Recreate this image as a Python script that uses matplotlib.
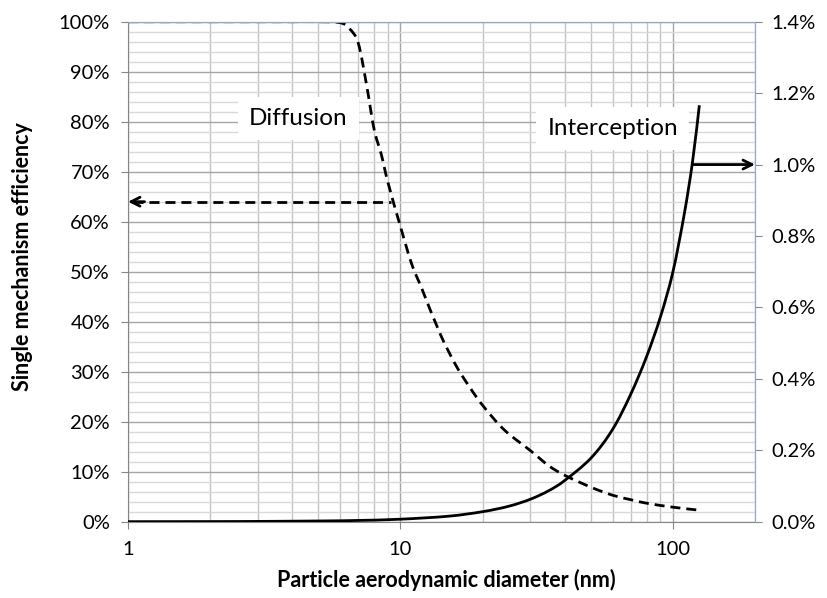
import matplotlib
matplotlib.use("Agg")
import numpy as np
import matplotlib.pyplot as plt
from matplotlib.path import Path
from matplotlib.patches import PathPatch
from matplotlib.ticker import FixedLocator, FuncFormatter, NullFormatter

plt.rcParams['font.family'] = ['Lato', 'DejaVu Sans']

# diffusion efficiency (left axis, %)
d_diff = [1, 2, 3, 4, 5, 6, 6.5, 7, 7.5, 8, 8.5, 9, 10, 11, 12, 14, 16, 18,
          20, 24, 30, 35, 40, 50, 60, 70, 80, 100, 125]
eff_diff = [100, 100, 100, 100, 100, 99.8, 98.6, 95.7, 87.5, 78.5, 73.5, 67.8,
            59, 51.5, 46.5, 37.5, 31.2, 26.8, 23.3, 18.4, 14.2, 11.2, 9.3, 6.9,
            5.3, 4.4, 3.7, 2.9, 2.3]

# interception efficiency (right axis, %)
d_int = [1, 2, 3, 5, 7, 10, 15, 20, 25, 30, 35, 40, 50, 60, 70, 80, 90, 100,
         110, 118, 125]
eff_int = [0.0001, 0.0004, 0.0008, 0.002, 0.0035, 0.007, 0.0154, 0.028,
           0.0434, 0.063, 0.0868, 0.115, 0.178, 0.258, 0.357, 0.462, 0.574,
           0.70, 0.861, 1.008, 1.166]

x_ticks = [1, 10, 100]
x_minor = [2, 3, 4, 5, 6, 7, 8, 9, 20, 30, 40, 50, 60, 70, 80, 90, 200]

LW = 2.0
DASH = (0, (3.6, 2.15))


def smooth_path(xs, ys, yspan):
    # Excel-style smoothed line: Catmull-Rom segments as cubic Beziers,
    # worked out in log-x / linear-y space, then mapped back to data units
    u = np.log10(xs)
    v = np.asarray(ys, float) / yspan * 1.84  # roughly the plot's aspect
    p = np.column_stack([u, v])
    n = len(p)
    verts = [p[0]]
    codes = [Path.MOVETO]
    for i in range(n - 1):
        p0 = p[max(i - 1, 0)]
        p1, p2 = p[i], p[i + 1]
        p3 = p[min(i + 2, n - 1)]
        verts += [p1 + (p2 - p0) / 6, p2 - (p3 - p1) / 6, p2]
        codes += [Path.CURVE4] * 3
    verts = np.array(verts)
    verts[:, 0] = 10 ** verts[:, 0]
    verts[:, 1] = verts[:, 1] / 1.84 * yspan
    return Path(verts, codes)


fig = plt.figure(figsize=(8.28, 5.98), dpi=100)
ax = fig.add_axes([0.1546, 0.1276, 0.7572, 0.8361])
ax2 = ax.twinx()

ax.set_xscale('log')
ax.set_xlim(1, 200)
ax.set_ylim(0, 100)
ax2.set_ylim(0, 1.4)

ax.xaxis.set_major_locator(FixedLocator(x_ticks))
ax.xaxis.set_minor_locator(FixedLocator(x_minor))
ax.xaxis.set_major_formatter(FuncFormatter(lambda v, p: '%g' % v))
ax.xaxis.set_minor_formatter(NullFormatter())
ax.set_yticks(range(0, 101, 10))
ax.set_yticks(range(0, 101, 2), minor=True)
ax.yaxis.set_major_formatter(FuncFormatter(lambda v, p: '%d%%' % v))
ax2.set_yticks([0, 0.2, 0.4, 0.6, 0.8, 1.0, 1.2, 1.4])
ax2.yaxis.set_major_formatter(FuncFormatter(lambda v, p: '%.1f%%' % v))

# gridlines
ax.grid(True, which='major', axis='x', color='#a6a6a6', lw=1.0)
ax.grid(True, which='minor', axis='x', color='#c4c4c4', lw=1.0)
ax.grid(True, which='major', axis='y', color='#a6a6a6', lw=1.0)
ax.grid(True, which='minor', axis='y', color='#d9d9d9', lw=1.0)
ax.set_axisbelow(True)

for s in ['left', 'bottom']:
    ax.spines[s].set_color('#868686')
for s in ['top', 'right']:
    ax.spines[s].set_color('#95a8cc')
    ax2.spines[s].set_color('#95a8cc')
ax2.spines['left'].set_visible(False)
ax2.spines['bottom'].set_visible(False)

ax.tick_params(axis='both', which='major', labelsize=14.5, length=5,
               color='#868686', labelcolor='black')
ax.tick_params(axis='y', which='major', pad=8)
ax.tick_params(axis='x', which='major', pad=9)
ax.tick_params(which='minor', length=0)
ax2.tick_params(axis='y', labelsize=14.5, length=5, color='#868686', pad=7)

ax.add_patch(PathPatch(smooth_path(d_diff, eff_diff, 100), fill=False,
                       edgecolor='black', lw=LW, ls=DASH))
ax2.add_patch(PathPatch(smooth_path(d_int, eff_int, 1.4), fill=False,
                        edgecolor='black', lw=LW))

# pointer arrows towards each curve's axis
ax.plot([1.04, 9.2], [64, 64], color='black', lw=LW, ls=DASH)
ax.annotate('', xy=(1.0, 64), xytext=(1.15, 64),
            arrowprops=dict(arrowstyle='->', lw=LW, color='black',
                            mutation_scale=16, shrinkA=0, shrinkB=0))
ax2.annotate('', xy=(200, 1.0), xytext=(118, 1.0),
             arrowprops=dict(arrowstyle='->', lw=LW, color='black',
                             mutation_scale=16, shrinkA=0, shrinkB=0))

box = dict(facecolor='white', edgecolor='none', pad=8)
ax2.text(4.22, 80.7 * 0.014, 'Diffusion', fontsize=17.5, ha='center',
         va='center', bbox=box)
ax2.text(60.2, 78.7 * 0.014, 'Interception', fontsize=17.5, ha='center',
         va='center', bbox=box)

ax.set_xlabel('Particle aerodynamic diameter (nm)', fontsize=15.5,
              fontweight='bold')
ax.set_ylabel('Single mechanism efficiency', fontsize=15.5, fontweight='bold')
ax.xaxis.set_label_coords(0.507, -0.095)
ax.yaxis.set_label_coords(-0.152, 0.531)

fig.savefig('out.png', dpi=100)
